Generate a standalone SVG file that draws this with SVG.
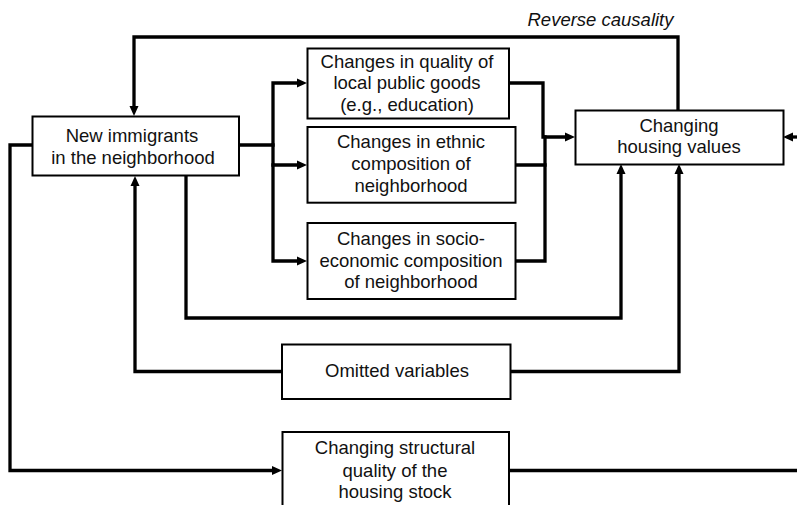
<svg xmlns="http://www.w3.org/2000/svg" width="797" height="505" viewBox="0 0 797 505">
<style>
  .box { fill: #ffffff; stroke: #000000; stroke-width: 2; }
  .lbl { font-family: "Liberation Sans", Arial, Helvetica, sans-serif; font-size: 18.5px; fill: #111111; text-anchor: middle; }
  .it { font-style: italic; }
  .con { fill: none; stroke: #000000; stroke-width: 3.3; stroke-linejoin: miter; stroke-linecap: square; }
</style>
<defs>
  <marker id="arr" markerUnits="userSpaceOnUse" markerWidth="10" markerHeight="9" refX="0" refY="4.5" orient="auto" overflow="visible">
    <path d="M0,0 L10,4.5 L0,9 Z" fill="#000000"/>
  </marker>
</defs>
<rect width="797" height="505" fill="#ffffff"/>

<g id="connectors">
  <!-- reverse causality -->
  <path class="con" d="M678,110 V37 H134 V106" marker-end="url(#arr)"/>
  <!-- fan-out from new immigrants -->
  <path class="con" d="M239,145 H273 V83 H297" marker-end="url(#arr)"/>
  <path class="con" d="M273,145 V165 H297" marker-end="url(#arr)"/>
  <path class="con" d="M273,165 V261 H297" marker-end="url(#arr)"/>
  <!-- fan-in to housing values -->
  <path class="con" d="M509,83 H543 V137 H565" marker-end="url(#arr)"/>
  <path class="con" d="M516,165 H545"/>
  <path class="con" d="M516,261 H545 V137"/>
  <!-- direct effect -->
  <path class="con" d="M186,176 V318 H621 V174" marker-end="url(#arr)"/>
  <!-- omitted variables -->
  <path class="con" d="M282,371.5 H135 V186" marker-end="url(#arr)"/>
  <path class="con" d="M511,371.5 H679 V174" marker-end="url(#arr)"/>
  <!-- structural quality -->
  <path class="con" d="M32,145 H10 V470.5 H272" marker-end="url(#arr)"/>
  <path class="con" d="M509,470.5 H799"/>
  <!-- from the right -->
  <path class="con" d="M799,137 H793" marker-end="url(#arr)"/>
  <text class="lbl it" x="600.5" y="26">Reverse causality</text>
</g>

<g id="new-immigrants">
  <rect class="box" x="32.5" y="116.5" width="206.5" height="59"/>
  <text class="lbl" x="132" y="142.3">New immigrants</text>
  <text class="lbl" x="133" y="164">in the neighborhood</text>
</g>

<g id="public-goods">
  <rect class="box" x="307.5" y="48.5" width="201.5" height="70"/>
  <text class="lbl" x="407" y="67.5">Changes in quality of</text>
  <text class="lbl" x="407" y="89.3">local public goods</text>
  <text class="lbl" x="407" y="111">(e.g., education)</text>
</g>

<g id="ethnic">
  <rect class="box" x="307.5" y="127" width="208" height="75.7"/>
  <text class="lbl" x="411" y="148.3">Changes in ethnic</text>
  <text class="lbl" x="411" y="170">composition of</text>
  <text class="lbl" x="411" y="191.7">neighborhood</text>
</g>

<g id="socioeconomic">
  <rect class="box" x="307.5" y="223" width="208" height="76"/>
  <text class="lbl" x="411" y="245">Changes in socio-</text>
  <text class="lbl" x="411" y="266.7">economic composition</text>
  <text class="lbl" x="411" y="288.3">of neighborhood</text>
</g>

<g id="housing-values">
  <rect class="box" x="575.5" y="110.5" width="208" height="54"/>
  <text class="lbl" x="679" y="131.7">Changing</text>
  <text class="lbl" x="679" y="153">housing values</text>
</g>

<g id="omitted">
  <rect class="box" x="282" y="344.5" width="228.5" height="54.5"/>
  <text class="lbl" x="397" y="377.3">Omitted variables</text>
</g>

<g id="structural">
  <rect class="box" x="282.5" y="432" width="226.5" height="90"/>
  <text class="lbl" x="395" y="454">Changing structural</text>
  <text class="lbl" x="395" y="476.5">quality of the</text>
  <text class="lbl" x="395" y="498.3">housing stock</text>
</g>
</svg>
